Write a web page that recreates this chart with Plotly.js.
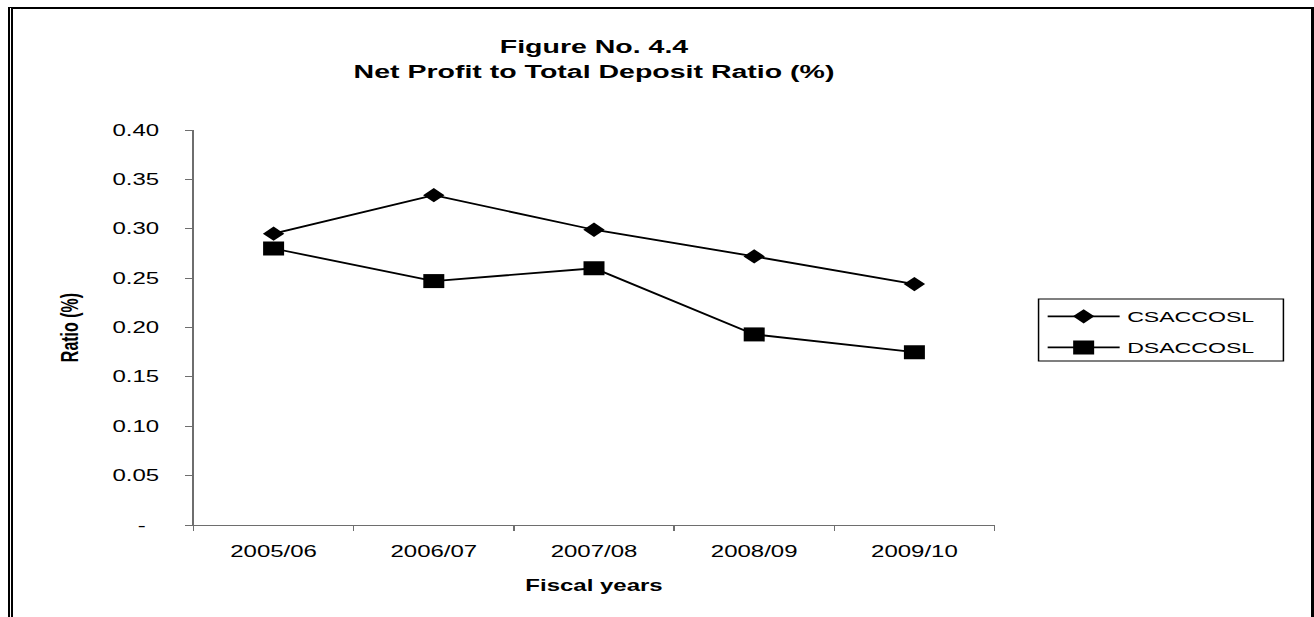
<!DOCTYPE html>
<html>
<head>
<meta charset="utf-8">
<script src="https://cdn.plot.ly/plotly-3.0.1.min.js"></script>
<style>
  html, body { margin: 0; padding: 0; background: #fff; }
  #frame {
    position: absolute; left: 8px; top: 7px; width: 1298px; height: 620px;
    border-left: 5px double #000; border-top: 2px solid #000; border-right: 3px solid #000;
    z-index: 2; pointer-events: none; background: transparent;
  }
  /* the chart is laid out narrow and widened horizontally */
  #chart {
    position: absolute; left: 0; top: 0; width: 876px; height: 617px;
    transform: scaleX(1.5); transform-origin: 0 0; z-index: 1;
  }
</style>
</head>
<body>
<div id="chart"></div>
<div id="frame"></div>
<script>
// Fiscal years on the category axis
const years = ["2005/06", "2006/07", "2007/08", "2008/09", "2009/10"];
// Net profit to total deposit ratio (%) for each cooperative
const csaccosl = [0.295, 0.334, 0.299, 0.272, 0.244];
const dsaccosl = [0.280, 0.247, 0.260, 0.193, 0.175];
// Ratio axis ticks and their labels
const ratioTicks = [0, 0.05, 0.10, 0.15, 0.20, 0.25, 0.30, 0.35, 0.40];
const ratioTickText = ["-\u00a0\u00a0", "0.05", "0.10", "0.15", "0.20", "0.25", "0.30", "0.35", "0.40"];

const FONT = "Liberation Sans, Arial, sans-serif";

const traces = [
  {
    x: years, y: csaccosl, name: "CSACCOSL", type: "scatter", mode: "lines+markers",
    legendgroup: "c",
    line: { color: "#000", width: 1.8 },
    marker: { symbol: "diamond", size: 11, color: "#000" }
  },
  {
    x: years, y: dsaccosl, name: "DSACCOSL", type: "scatter", mode: "lines+markers",
    legendgroup: "d",
    line: { color: "#000", width: 1.8 },
    marker: { symbol: "square", size: 14, color: "#000" }
  }
];

const layout = {
  width: 876, height: 617,
  margin: { l: 129, r: 213, t: 130, b: 92, pad: 0 },
  paper_bgcolor: "rgba(0,0,0,0)", plot_bgcolor: "rgba(0,0,0,0)",
  font: { family: FONT, color: "#000" },
  title: {
    text: "<b>Figure No. 4.4</b><br><b>Net Profit to Total Deposit Ratio (%)</b>",
    font: { family: FONT, size: 19, color: "#000" },
    x: 0.5, xref: "paper", xanchor: "center",
    y: 1 - 53 / 617, yref: "container", yanchor: "top"
  },
  xaxis: {
    type: "category",
    range: [-0.5, 4.5],
    tickson: "boundaries",
    ticks: "outside", ticklen: 5, tickwidth: 1, tickcolor: "#6e6e6e",
    showline: true, linecolor: "#6e6e6e", linewidth: 1.2,
    showgrid: false, zeroline: false,
    tickfont: { family: FONT, size: 16, color: "#000" },
    ticklabelstandoff: 12,
    title: { text: "<b>Fiscal years</b>", font: { family: FONT, size: 16, color: "#000" }, standoff: 20 }
  },
  yaxis: {
    range: [0, 0.40],
    tickvals: ratioTicks, ticktext: ratioTickText,
    ticks: "outside", ticklen: 4.5, tickwidth: 1, tickcolor: "#6e6e6e",
    showline: true, linecolor: "#6e6e6e", linewidth: 1.2,
    showgrid: false, zeroline: false,
    tickfont: { family: FONT, size: 16, color: "#000" },
    ticklabelstandoff: 14,
    title: { text: "<b>Ratio (%)</b>", font: { family: FONT, size: 16, color: "#000" }, standoff: 18 }
  },
  showlegend: true,
  legend: {
    x: 1.057, xanchor: "left", y: 0.570, yanchor: "top",
    borderwidth: 0, bgcolor: "rgba(0,0,0,0)",
    font: { family: FONT, size: 15.4, color: "#000" },
    itemwidth: 48, tracegroupgap: 8
  },
  // frame around the legend entries
  shapes: [{
    type: "rect", xref: "paper", yref: "paper", layer: "above",
    x0: 1.055, x1: 1.3607, y0: 0.415, y1: 0.572,
    line: { color: "#000", width: 1 }, fillcolor: "rgba(0,0,0,0)"
  }]
};

Plotly.newPlot("chart", traces, layout, { displayModeBar: false, staticPlot: true });
</script>
</body>
</html>
